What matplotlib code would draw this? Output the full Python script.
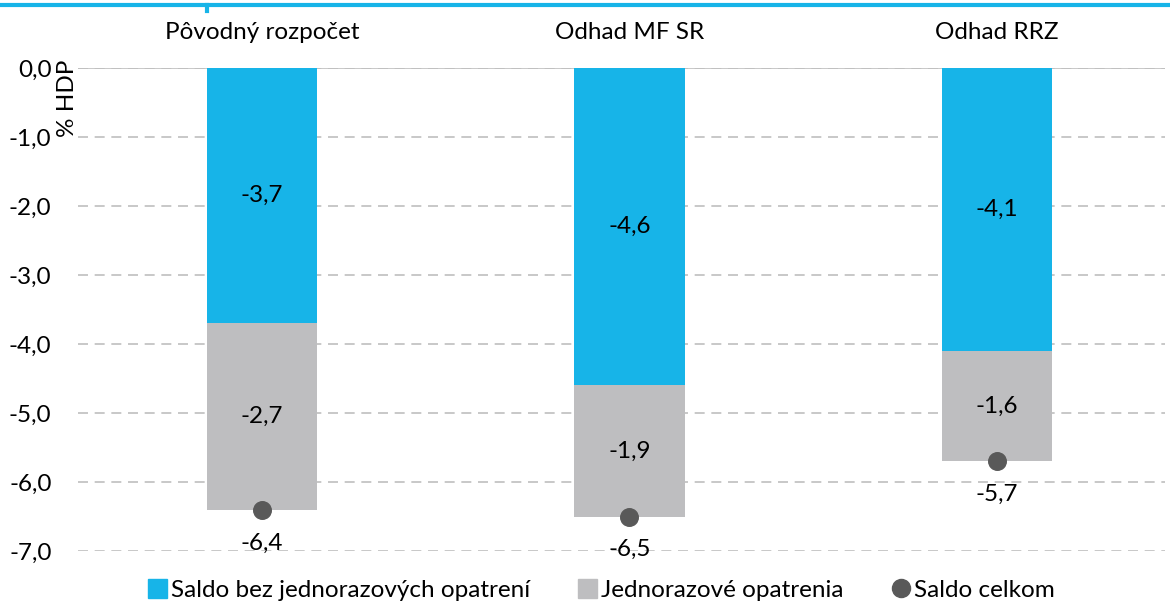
import numpy as np
import matplotlib
matplotlib.use("Agg")
import matplotlib.pyplot as plt
from matplotlib.lines import Line2D
from matplotlib.patches import Rectangle

plt.rcParams['font.family'] = ['Lato', 'DejaVu Sans']

# data
categories = ['Pôvodný rozpočet', 'Odhad MF SR', 'Odhad RRZ']
saldo_bez = [-3.7, -4.6, -4.1]
jednorazove = [-2.7, -1.9, -1.6]
saldo_celkom = [-6.4, -6.5, -5.7]
yticks = [0, -1, -2, -3, -4, -5, -6, -7]

blue = '#17B4E8'
grey = '#BEBEC0'
dot = '#595959'
fs = 17.5

fig = plt.figure(figsize=(11.7, 6.03), dpi=100)
W, H = 1170, 603
ax = fig.add_axes([78 / W, (H - 551) / H, (1165 - 78) / W, (551 - 68) / H])

x = np.arange(len(categories))
bw = 0.3
ax.bar(x, saldo_bez, width=bw, color=blue, zorder=2)
ax.bar(x, jednorazove, width=bw, bottom=saldo_bez, color=grey, zorder=2)
ax.scatter(x, saldo_celkom, s=160, color=dot, zorder=3, clip_on=False)

fmt = lambda v: f'{v:.1f}'.replace('.', ',')
for i in range(len(x)):
    ax.text(x[i], saldo_bez[i] / 2, fmt(saldo_bez[i]), ha='center', va='center', fontsize=fs)
    ax.text(x[i], saldo_bez[i] + jednorazove[i] / 2, fmt(jednorazove[i]),
            ha='center', va='center', fontsize=fs)
    ax.annotate(fmt(saldo_celkom[i]), (x[i], saldo_celkom[i]), xytext=(0, -24),
                textcoords='offset points', ha='center', va='center', fontsize=fs)
    ax.text(x[i], 0.52, categories[i], ha='center', va='center', fontsize=fs)

ax.set_ylim(-7, 0)
ax.set_xlim(-0.5, 2.457)
ax.set_yticks(yticks)
ax.set_yticklabels([fmt(v) for v in yticks], fontsize=fs)
ax.set_xticks([])
ax.tick_params(axis='y', length=0, pad=19)
for s in ax.spines.values():
    s.set_visible(False)
ax.yaxis.grid(True, color='#BFBFBF', linestyle=(0, (6, 4)), linewidth=1.2, zorder=0)
ax.axhline(0, color='#C8C8C8', linewidth=1.4, zorder=1)
fig.text(67 / W, 1 - 60 / H, '% HDP', rotation=90, ha='center', va='top', fontsize=fs)

# top blue rule
fig.add_artist(Line2D([0, 1], [1 - 5 / H, 1 - 5 / H], color=blue, linewidth=3))
fig.add_artist(Line2D([207 / W, 207 / W], [1 - 5 / H, 1 - 11 / H], color=blue, linewidth=3))

handles = [Rectangle((0, 0), 1, 1, color=blue),
           Rectangle((0, 0), 1, 1, color=grey),
           Line2D([], [], marker='o', linestyle='', color=dot, markersize=13)]
labels = ['Saldo bez jednorazových opatrení', 'Jednorazové opatrenia', 'Saldo celkom']
fig.legend(handles, labels, loc='center', bbox_to_anchor=(0.514, 1 - 590 / H), ncol=3,
           frameon=False, fontsize=fs, handlelength=0.8, handleheight=0.8,
           handletextpad=0.15, columnspacing=1.97)

fig.savefig('out.png', dpi=100)
